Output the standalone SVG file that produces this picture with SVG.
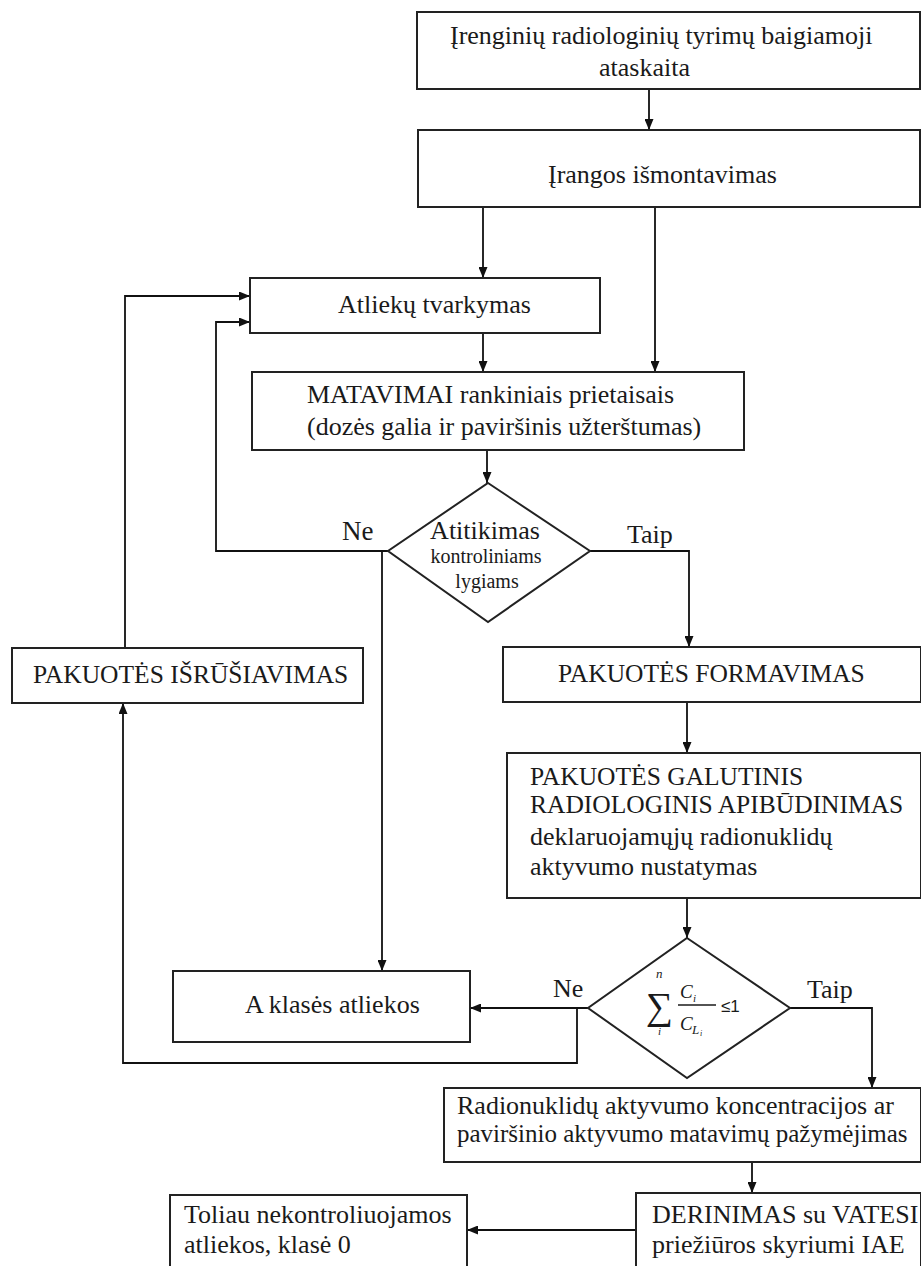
<svg xmlns="http://www.w3.org/2000/svg" width="921" height="1266" viewBox="0 0 921 1266">
<style>
.box{fill:#fff;stroke:#222;stroke-width:2}
.t{font-family:"Liberation Serif","Times New Roman",serif;font-size:26px;fill:#1a1a1a}
.c{font-size:25.5px}
.s{font-size:20px}
.con{fill:none;stroke:#111;stroke-width:1.8}
.it{font-family:"Liberation Serif",serif;font-style:italic;fill:#1a1a1a}
</style>
<defs>
<marker id="ah" markerUnits="userSpaceOnUse" markerWidth="11" markerHeight="9" refX="11" refY="4.5" orient="auto">
<path d="M0,0 L11,4.5 L0,9 z" fill="#111"/>
</marker>
</defs>
<rect width="921" height="1266" fill="#fff"/>

<g id="connectors" class="con" marker-end="url(#ah)">
<path d="M649,89 V130"/>
<path d="M483,207 V278"/>
<path d="M655,207 V372"/>
<path d="M483,333 V372"/>
<path d="M487,450 V483"/>
<path d="M388,551 H216 V322 H250"/>
<path d="M382,551 V971"/>
<path d="M590,551 H689 V647"/>
<path d="M125,648 V296 H250"/>
<path d="M687,702 V753"/>
<path d="M687,898 V938"/>
<path d="M588,1008 H470"/>
<path d="M577,1008 V1063 H123 V703"/>
<path d="M790,1008 H872 V1088"/>
<path d="M752,1162 V1193"/>
<path d="M636,1230 H467"/>
</g>

<g id="n1">
<rect class="box" x="417" y="12" width="503" height="77"/>
<text class="t" x="450" y="44">Įrenginių radiologinių tyrimų baigiamoji</text>
<text class="t" x="599" y="76">ataskaita</text>
</g>

<g id="n2">
<rect class="box" x="418" y="130" width="502" height="77"/>
<text class="t" x="548" y="183">Įrangos išmontavimas</text>
</g>

<g id="n3">
<rect class="box" x="250" y="278" width="350" height="55"/>
<text class="t" x="338" y="313">Atliekų tvarkymas</text>
</g>

<g id="n4">
<rect class="box" x="252" y="372" width="492" height="78"/>
<text class="t" x="307" y="403">MATAVIMAI rankiniais prietaisais</text>
<text class="t" x="307" y="435">(dozės galia ir paviršinis užterštumas)</text>
</g>

<g id="d1">
<polygon class="box" points="488,483 590,551 488,622 388,551"/>
<text class="t" x="485" y="539" text-anchor="middle">Atitikimas</text>
<text class="t s" x="486" y="563" text-anchor="middle">kontroliniams</text>
<text class="t s" x="487" y="588" text-anchor="middle">lygiams</text>
<text class="t" x="342" y="540" style="font-size:27px">Ne</text>
<text class="t" x="627" y="543">Taip</text>
</g>

<g id="n5">
<rect class="box" x="12" y="648" width="351" height="55"/>
<text class="t c" x="33" y="683">PAKUOTĖS IŠRŪŠIAVIMAS</text>
</g>

<g id="n6">
<rect class="box" x="503" y="647" width="418" height="55"/>
<text class="t c" x="558" y="682">PAKUOTĖS FORMAVIMAS</text>
</g>

<g id="n7">
<rect class="box" x="507" y="753" width="414" height="145"/>
<text class="t c" x="530" y="785">PAKUOTĖS GALUTINIS</text>
<text class="t c" x="530" y="813">RADIOLOGINIS APIBŪDINIMAS</text>
<text class="t" x="530" y="845">deklaruojamųjų radionuklidų</text>
<text class="t" x="530" y="875">aktyvumo nustatymas</text>
</g>

<g id="d2">
<polygon class="box" points="687,938 790,1008 687,1078 588,1008"/>
<text x="646" y="1019" style="font-family:'Liberation Serif','DejaVu Serif',serif;font-size:38px;fill:#1a1a1a">∑</text>
<text class="it" x="656" y="978" style="font-size:13px">n</text>
<text class="it" x="658" y="1035" style="font-size:11px">i</text>
<text class="it" x="680" y="998" style="font-size:19px">C</text>
<text class="it" x="693" y="1002" style="font-size:11px">i</text>
<line x1="678" y1="1005" x2="716" y2="1005" stroke="#1a1a1a" stroke-width="1.5"/>
<text class="it" x="680" y="1030" style="font-size:19px">C</text>
<text class="it" x="692" y="1034" style="font-size:13px">L</text>
<text class="it" x="700" y="1036" style="font-size:8px">i</text>
<text x="721" y="1012" style="font-family:'Liberation Sans',Arial,sans-serif;font-size:17px;fill:#1a1a1a">≤1</text>
<text class="t" x="553" y="997">Ne</text>
<text class="t" x="807" y="998">Taip</text>
</g>

<g id="n8">
<rect class="box" x="173" y="971" width="297" height="71"/>
<text class="t" x="245" y="1013">A klasės atliekos</text>
</g>

<g id="n9">
<rect class="box" x="444" y="1088" width="477" height="74"/>
<text class="t" x="457" y="1114">Radionuklidų aktyvumo koncentracijos ar</text>
<text class="t" x="457" y="1142" style="font-size:25px">paviršinio aktyvumo matavimų pažymėjimas</text>
</g>

<g id="n10">
<rect class="box" x="636" y="1193" width="285" height="80"/>
<text class="t" x="652" y="1223">DERINIMAS su VATESI</text>
<text class="t" x="652" y="1253">priežiūros skyriumi IAE</text>
</g>

<g id="n11">
<rect class="box" x="170" y="1195" width="297" height="80"/>
<text class="t" x="184" y="1223">Toliau nekontroliuojamos</text>
<text class="t" x="184" y="1253">atliekos, klasė 0</text>
</g>
</svg>
